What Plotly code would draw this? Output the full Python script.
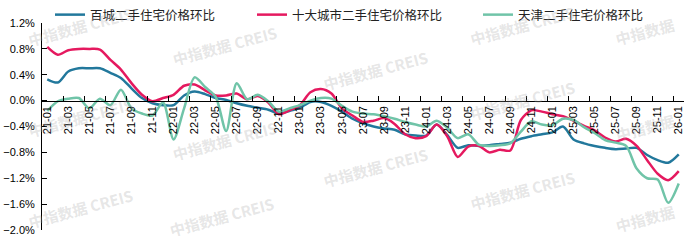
import plotly.graph_objects as go

months = ["21-01","21-02","21-03","21-04","21-05","21-06","21-07","21-08","21-09","21-10","21-11","21-12",
          "22-01","22-02","22-03","22-04","22-05","22-06","22-07","22-08","22-09","22-10","22-11","22-12",
          "23-01","23-02","23-03","23-04","23-05","23-06","23-07","23-08","23-09","23-10","23-11","23-12",
          "24-01","24-02","24-03","24-04","24-05","24-06","24-07","24-08","24-09","24-10","24-11","24-12",
          "25-01","25-02","25-03","25-04","25-05","25-06","25-07","25-08","25-09","25-10","25-11","25-12",
          "26-01"]

bai_cheng = [0.33, 0.28, 0.45, 0.50, 0.50, 0.50, 0.43, 0.35, 0.19, 0.04,
             -0.04, -0.07, -0.07, 0.08, 0.14, 0.10, 0.04, 0.01, -0.04, -0.08,
             -0.11, -0.14, -0.20, -0.16, -0.11, -0.02, -0.02, -0.08, -0.17, -0.28,
             -0.35, -0.40, -0.43, -0.45, -0.52, -0.54, -0.54, -0.37, -0.53, -0.73,
             -0.69, -0.70, -0.69, -0.67, -0.65, -0.59, -0.55, -0.52, -0.49, -0.40,
             -0.60, -0.66, -0.70, -0.73, -0.75, -0.74, -0.73, -0.84, -0.92, -0.96,
             -0.83]

shi_da = [0.83, 0.71, 0.78, 0.80, 0.80, 0.79, 0.63, 0.48, 0.27, 0.09,
          -0.01, 0.04, 0.09, 0.23, 0.25, 0.16, 0.08, 0.08, 0.11, 0.02,
          0.07, -0.03, -0.21, -0.15, -0.07, 0.13, 0.18, 0.11, -0.12, -0.23,
          -0.33, -0.31, -0.27, -0.36, -0.52, -0.58, -0.55, -0.37, -0.55, -0.87,
          -0.71, -0.70, -0.80, -0.76, -0.77, -0.30, -0.15, -0.17, -0.21, -0.24,
          -0.31, -0.39, -0.46, -0.57, -0.63, -0.59, -0.70, -0.92, -1.13, -1.23,
          -1.09]

tianjin = [-0.16, -0.01, 0.03, 0.04, -0.12, 0.03, -0.07, 0.17, -0.12, -0.20,
           -0.23, -0.03, -0.60, -0.12, 0.36, 0.21, 0.06, -0.47, 0.27, 0.02,
           0.09, -0.01, -0.17, -0.12, -0.07, 0.00, 0.04, 0.03, -0.08, -0.17,
           -0.20, -0.21, -0.24, -0.28, -0.33, -0.37, -0.40, -0.31, -0.42, -0.58,
           -0.52, -0.68, -0.70, -0.69, -0.66, -0.48, -0.32, -0.37, -0.38, -0.28,
           -0.30, -0.41, -0.50, -0.61, -0.65, -0.70, -1.05, -1.20, -1.22, -1.58,
           -1.28]

series_names = ["百城二手住宅价格环比", "十大城市二手住宅价格环比", "天津二手住宅价格环比"]
series_values = [bai_cheng, shi_da, tianjin]
colors = ["#22789c", "#e5195f", "#70c4a8"]
legend_ids = ["legend", "legend2", "legend3"]
legend_left_px = [50, 252, 478]

W, H = 691, 241
ML, MR, MT, MB = 42, 7, 23, 11
FONT = "Liberation Sans, Arial, Noto Sans CJK SC, sans-serif"

fig = go.Figure()
for name, vals, col, lg in zip(series_names, series_values, colors, legend_ids):
    fig.add_trace(go.Scatter(
        x=months, y=vals, name=name, mode="lines",
        line=dict(color=col, width=2.5, shape="spline", smoothing=0.8),
        legend=lg, hoverinfo="skip"))

ymin, ymax = -2.0, 1.2
layout_legends = {}
for lg, lx in zip(legend_ids, legend_left_px):
    layout_legends[lg] = dict(
        orientation="h", xref="container", yref="container",
        x=lx / W, y=1 - 15 / H, xanchor="left", yanchor="middle",
        bgcolor="rgba(0,0,0,0)", borderwidth=0,
        font=dict(family="Noto Sans CJK SC, sans-serif", size=12.5, color="#222"),
        itemwidth=30)

# watermarks (pixel positions -> paper coords)
pw = W - ML - MR
ph = H - MT - MB
wm_full = [(80, 27), (80, 117), (80, 208),
           (225, 45), (225, 140), (222, 216),
           (375, 70), (375, 167),
           (522, 26), (522, 100), (522, 190)]
wm_short = [(645, 32), (645, 127), (645, 218)]
annotations = []
for pts, txt in ((wm_full, "<b>中指数据 CREIS</b>"), (wm_short, "<b>中指数据</b>")):
    for px, py in pts:
        annotations.append(dict(
            text=txt, x=(px - ML) / pw, y=(H - MB - py) / ph,
            xref="paper", yref="paper", showarrow=False, textangle=-15,
            font=dict(family="Noto Sans CJK SC, Liberation Sans, sans-serif", size=15,
                      color="rgba(170,170,170,0.30)"),
            xanchor="center", yanchor="middle"))

fig.update_layout(
    width=W, height=H,
    margin=dict(l=ML, r=MR, t=MT, b=MB, pad=0, autoexpand=False),
    paper_bgcolor="white", plot_bgcolor="white",
    font=dict(family=FONT, size=11, color="#000"),
    showlegend=True,
    annotations=annotations,
    **layout_legends,
)

fig.update_xaxes(
    type="category", categoryorder="array", categoryarray=months,
    range=[-0.5, len(months) - 0.5],
    anchor="free", position=(0 - ymin) / (ymax - ymin),
    showline=True, linecolor="#000", linewidth=1,
    ticks="inside", ticklen=5, tickcolor="#000", tickwidth=1,
    tickson="boundaries", tickmode="array", tickvals=months[::2], ticktext=months[::2],
    tickangle=-90, tickfont=dict(size=11, color="#000"),
    showgrid=False, zeroline=False,
)
fig.update_yaxes(
    range=[ymin, ymax], tick0=0, dtick=0.4, tickformat=".1f", ticksuffix="%",
    showline=True, linecolor="#000", linewidth=1,
    ticks="inside", ticklen=5, tickcolor="#000",
    ticklabelstandoff=4,
    tickfont=dict(size=11, color="#000"),
    showgrid=False, zeroline=False,
)

fig.write_html("out.html")
